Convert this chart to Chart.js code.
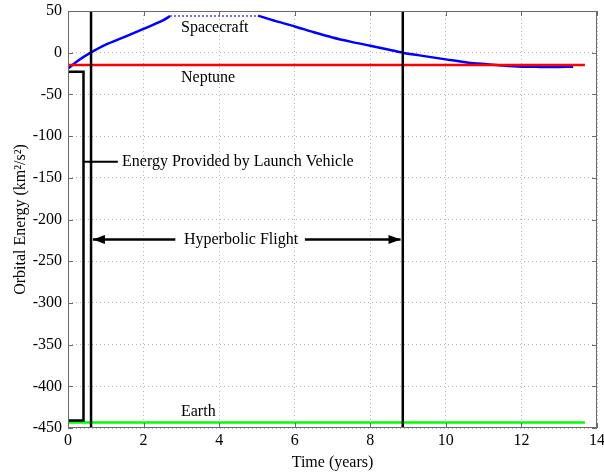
<!DOCTYPE html>
<html>
<head>
<meta charset="utf-8">
<script src="https://cdn.jsdelivr.net/npm/chart.js@4"></script>
<style>
  html, body { margin: 0; padding: 0; background: #fff; }
  #wrap { width: 604px; height: 472px; }
</style>
</head>
<body>
<div id="wrap"><canvas id="energyChart"></canvas></div>
<script>
// spacecraft orbital energy vs time (km^2/s^2)
const scYears = [0, 0.3, 0.6, 1.0, 1.5, 2.0, 2.5, 2.7];
const scEnergy = [-19, -8.5, 0, 9.6, 19, 28.5, 38.5, 43.8];
const scGapYears = [2.7, 5.03];
const scGapEnergy = [44, 44];
const scLateYears = [5.03, 5.5, 6.0, 6.5, 7.0, 7.5, 8.0, 8.5, 8.86, 9.3, 10.0, 10.6, 11.1, 11.5, 12.0, 12.5, 13.0, 13.37];
const scLateEnergy = [44.4, 37.8, 31.5, 24.6, 18.2, 13, 8.4, 3.6, 0, -3.2, -8, -12, -13.9, -15.5, -16.8, -17, -17, -16.8];

const planetYears = [0, 13.68];
const neptuneEnergy = [-14.7, -14.7];
const earthEnergy = [-443.5, -443.5];

const launchYear = 0.61;
const arrivalYear = 8.86;

// launch vehicle bracket
const bracketYears = [0, 0.41, 0.41, 0];
const bracketEnergy = [-22.8, -22.8, -441, -441];
const bracketTickYears = [0.41, 1.32];
const bracketTickEnergy = [-130.7, -130.7];

// hyperbolic flight arrow
const arrowEnergy = -224;
const arrowLeftYears = [0.66, 2.84];
const arrowRightYears = [6.27, 8.8];

const xTicks = [0, 2, 4, 6, 8, 10, 12, 14];
const yTicks = [50, 0, -50, -100, -150, -200, -250, -300, -350, -400, -450];

const labels = [
  { text: "Spacecraft", x: 2.99, y: 30.3, align: "left" },
  { text: "Neptune", x: 2.99, y: -29.6, align: "left" },
  { text: "Earth", x: 2.99, y: -430, align: "left" },
  { text: "Energy Provided by Launch Vehicle", x: 1.43, y: -130.7, align: "left" },
  { text: "Hyperbolic Flight", x: 4.58, y: -224, align: "center" },
];

const serif = "'Liberation Serif', 'Times New Roman', serif";

function pts(xs, ys) {
  return xs.map((x, i) => ({ x: x, y: ys[i] }));
}

function lineSet(data, color, width, extra) {
  return Object.assign({
    data: data,
    borderColor: color,
    backgroundColor: color,
    borderWidth: width,
    pointRadius: 0,
    fill: false,
    tension: 0,
  }, extra || {});
}

const datasets = [
  lineSet(pts([launchYear, launchYear], [50, -450]), "#000", 2.5),
  lineSet(pts([arrivalYear, arrivalYear], [50, -450]), "#000", 2.5),
  lineSet(pts(bracketYears, bracketEnergy), "#000", 2.5),
  lineSet(pts(bracketTickYears, bracketTickEnergy), "#000", 2),
  lineSet(pts(arrowLeftYears, [arrowEnergy, arrowEnergy]), "#000", 2.5),
  lineSet(pts(arrowRightYears, [arrowEnergy, arrowEnergy]), "#000", 2.5),
  lineSet(pts(planetYears, earthEnergy), "#00ff00", 2.5),
  lineSet(pts(planetYears, neptuneEnergy), "#ff0000", 2.5),
  lineSet(pts(scYears, scEnergy), "#0000ff", 2.5, { tension: 0.3 }),
  lineSet(pts(scGapYears, scGapEnergy), "#6f6fff", 2, { borderDash: [2, 2] }),
  lineSet(pts(scLateYears, scLateEnergy), "#0000ff", 2.5, { tension: 0.3 }),
];

const decorPlugin = {
  id: "decor",
  afterDraw(chart) {
    const ctx = chart.ctx;
    const a = chart.chartArea;
    const xs = chart.scales.x;
    const ys = chart.scales.y;
    ctx.save();
    // frame and inner ticks
    ctx.strokeStyle = "#6a6a6a";
    ctx.lineWidth = 1;
    ctx.strokeRect(a.left + 0.5, a.top + 0.5, a.right - a.left - 1, a.bottom - a.top - 1);
    ctx.beginPath();
    xTicks.forEach((t) => {
      const px = Math.round(xs.getPixelForValue(t)) + 0.5;
      ctx.moveTo(px, a.bottom); ctx.lineTo(px, a.bottom - 5);
      ctx.moveTo(px, a.top); ctx.lineTo(px, a.top + 5);
    });
    yTicks.forEach((t) => {
      const py = Math.round(ys.getPixelForValue(t)) + 0.5;
      ctx.moveTo(a.left, py); ctx.lineTo(a.left + 5, py);
      ctx.moveTo(a.right, py); ctx.lineTo(a.right - 5, py);
    });
    ctx.stroke();

    // arrow heads
    ctx.fillStyle = "#000";
    const ay = ys.getPixelForValue(arrowEnergy);
    const lx = xs.getPixelForValue(arrowLeftYears[0]);
    const rx = xs.getPixelForValue(arrowRightYears[1]);
    ctx.beginPath();
    ctx.moveTo(lx, ay); ctx.lineTo(lx + 12, ay - 4.5); ctx.lineTo(lx + 12, ay + 4.5);
    ctx.closePath(); ctx.fill();
    ctx.beginPath();
    ctx.moveTo(rx, ay); ctx.lineTo(rx - 12, ay - 4.5); ctx.lineTo(rx - 12, ay + 4.5);
    ctx.closePath(); ctx.fill();

    // text labels
    ctx.font = "16px " + serif;
    ctx.textBaseline = "middle";
    labels.forEach((l) => {
      ctx.textAlign = l.align;
      ctx.fillText(l.text, xs.getPixelForValue(l.x), ys.getPixelForValue(l.y));
    });
    ctx.restore();
  },
};

new Chart(document.getElementById("energyChart"), {
  type: "line",
  data: { datasets: datasets },
  options: {
    responsive: true,
    maintainAspectRatio: false,
    animation: false,
    events: [],
    layout: { padding: { top: 11, right: 7, left: 0, bottom: 0 } },
    plugins: { legend: { display: false }, tooltip: { enabled: false } },
    scales: {
      x: {
        type: "linear",
        min: 0,
        max: 14,
        afterBuildTicks: (s) => { s.ticks = xTicks.map((v) => ({ value: v })); },
        afterFit: (s) => { s.height = 44; s.paddingLeft = 0; s.paddingRight = 0; },
        grid: { color: "#b5b5b5", tickLength: 0, drawTicks: false },
        border: { display: false, dash: [1, 3] },
        ticks: { color: "#000", font: { family: serif, size: 16 }, padding: 3, maxRotation: 0 },
        title: { display: true, text: "Time (years)", color: "#000", font: { family: serif, size: 16 }, padding: { top: 0, bottom: 0 } },
      },
      y: {
        type: "linear",
        min: -450,
        max: 50,
        afterBuildTicks: (s) => { s.ticks = yTicks.map((v) => ({ value: v })); },
        afterFit: (s) => { s.width = 68; s.paddingTop = 0; s.paddingBottom = 0; },
        grid: { color: "#b5b5b5", drawTicks: false },
        border: { display: false, dash: [1, 3] },
        ticks: { color: "#000", font: { family: serif, size: 16 }, padding: 6 },
        title: { display: true, text: "Orbital Energy (km²/s²)", color: "#000", font: { family: serif, size: 16 }, padding: { top: 11, bottom: 0 } },
      },
    },
  },
  plugins: [decorPlugin],
});
</script>
</body>
</html>
